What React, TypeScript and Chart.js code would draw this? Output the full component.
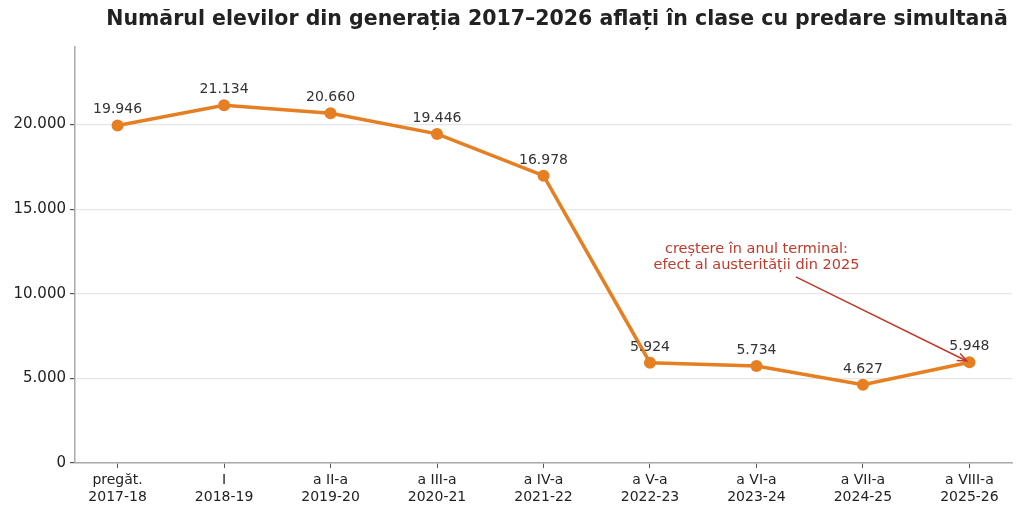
import { useEffect, useRef } from 'react';
import Chart from 'chart.js/auto';

const grades = ['pregăt.', 'I', 'a II-a', 'a III-a', 'a IV-a', 'a V-a', 'a VI-a', 'a VII-a', 'a VIII-a'];
const years = ['2017-18', '2018-19', '2019-20', '2020-21', '2021-22', '2022-23', '2023-24', '2024-25', '2025-26'];
const students = [19946, 21134, 20660, 19446, 16978, 5924, 5734, 4627, 5948];
const yTicks = [0, 5000, 10000, 15000, 20000];

const titleText = 'Numărul elevilor din generația 2017–2026 aflați în clase cu predare simultană';
const noteLines = ['creștere în anul terminal:', 'efect al austerității din 2025'];
const noteAt = { x: 6, y: 12150 };
const arrowFrom = { x: 6.37, y: 11000 };

const fmt = (v: number) => v.toLocaleString('de-DE');
const FONT = '"DejaVu Sans", sans-serif';

const decorPlugin = {
  id: 'decor',
  afterDraw(chart: any) {
    const { ctx } = chart;
    ctx.save();
    ctx.font = `bold 20.5px ${FONT}`;
    ctx.fillStyle = '#222';
    ctx.textAlign = 'center';
    ctx.textBaseline = 'middle';
    ctx.fillText(titleText, 557, 20);
    ctx.restore();
  },
  afterDatasetsDraw(chart: any) {
    const { ctx } = chart;
    const meta = chart.getDatasetMeta(0);
    ctx.save();
    ctx.font = `14px ${FONT}`;
    ctx.fillStyle = '#333';
    ctx.textAlign = 'center';
    ctx.textBaseline = 'alphabetic';
    meta.data.forEach((pt: any, i: number) => {
      ctx.fillText(fmt(students[i]), pt.x, pt.y - 12);
    });

    // annotation
    const xs = chart.scales.x;
    const ys = chart.scales.y;
    const tx = xs.getPixelForValue(noteAt.x);
    const ty = ys.getPixelForValue(noteAt.y);
    ctx.fillStyle = '#c0392b';
    ctx.font = `14.5px ${FONT}`;
    ctx.textBaseline = 'middle';
    ctx.fillText(noteLines[0], tx, ty - 8);
    ctx.fillText(noteLines[1], tx, ty + 8);

    const last = meta.data[students.length - 1];
    const x0 = xs.getPixelForValue(arrowFrom.x);
    const y0 = ys.getPixelForValue(arrowFrom.y);
    const ang = Math.atan2(last.y - y0, last.x - x0);
    const x1 = last.x - Math.cos(ang) * 3;
    const y1 = last.y - Math.sin(ang) * 3;
    ctx.strokeStyle = '#c0392b';
    ctx.lineWidth = 1.5;
    ctx.beginPath();
    ctx.moveTo(x0, y0);
    ctx.lineTo(x1, y1);
    ctx.stroke();
    ctx.beginPath();
    ctx.moveTo(x1 - Math.cos(ang - 0.4) * 10, y1 - Math.sin(ang - 0.4) * 10);
    ctx.lineTo(x1, y1);
    ctx.lineTo(x1 - Math.cos(ang + 0.4) * 10, y1 - Math.sin(ang + 0.4) * 10);
    ctx.stroke();
    ctx.restore();
  },
};

const App = () => {
  const ref = useRef<HTMLCanvasElement>(null);

  useEffect(() => {
    document.body.style.margin = '0';
    const chart = new Chart(ref.current!, {
      type: 'line',
      data: {
        datasets: [
          {
            data: students.map((v, i) => ({ x: i, y: v })),
            borderColor: '#e67e22',
            backgroundColor: '#e67e22',
            borderWidth: 3.5,
            pointRadius: 6,
            pointBorderWidth: 0,
            tension: 0,
          },
        ],
      },
      options: {
        animation: false,
        responsive: false,
        layout: { padding: { top: 47, right: 11, left: 0, bottom: 0 } },
        plugins: {
          legend: { display: false },
          tooltip: { enabled: false },
          title: { display: false },
        },
        scales: {
          x: {
            type: 'linear',
            min: -0.4,
            max: 8.4,
            afterBuildTicks: (axis: any) => {
              axis.ticks = grades.map((_, i) => ({ value: i }));
            },
            afterFit: (axis: any) => {
              axis.height = 51;
            },
            ticks: {
              color: '#222',
              font: { family: FONT, size: 14 },
              padding: 4,
              maxRotation: 0,
              autoSkip: false,
              callback: (v: any) => [grades[v], years[v]],
            },
            grid: { drawOnChartArea: false, tickLength: 5, tickColor: '#555' },
            border: { color: '#aaa', width: 1.5 },
          },
          y: {
            min: 0,
            max: 24580,
            afterBuildTicks: (axis: any) => {
              axis.ticks = yTicks.map((v) => ({ value: v }));
            },
            afterFit: (axis: any) => {
              axis.width = 75;
            },
            ticks: {
              color: '#222',
              font: { family: FONT, size: 15 },
              padding: 4,
              callback: (v: any) => fmt(v),
            },
            grid: { color: '#e6e6e6', lineWidth: 1.2, tickLength: 5, tickColor: '#555' },
            border: { color: '#aaa', width: 1.5 },
          },
        },
      },
      plugins: [decorPlugin],
    });
    return () => {
      chart.destroy();
    };
  }, []);

  return (
    <div>
      <canvas ref={ref} width={1023} height={514} />
    </div>
  );
};

export default App;
